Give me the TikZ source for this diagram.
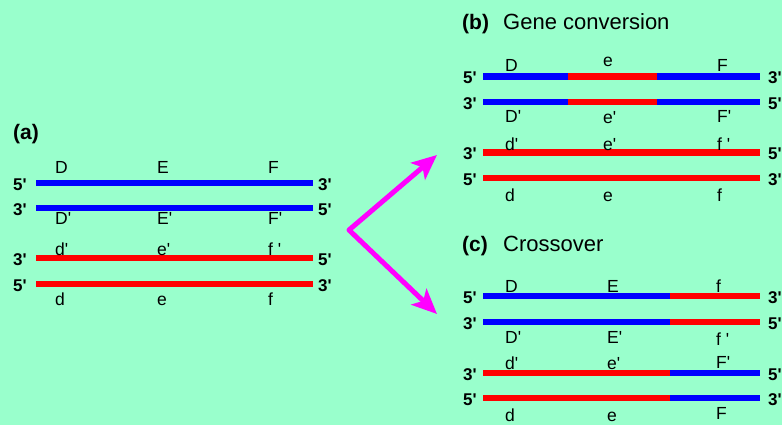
\documentclass[tikz,border=0pt]{standalone}
\usepackage{fontspec}
\setmainfont{Liberation Sans}
\usetikzlibrary{arrows.meta}
\definecolor{bg}{HTML}{99FFCC}
\definecolor{sblue}{HTML}{0000FF}
\definecolor{sred}{HTML}{FF0000}
\definecolor{smag}{HTML}{FF00FF}
\newcommand\pr{\textquotesingle}
\begin{document}
\begin{tikzpicture}[x=1pt,y=-1pt,
  lab/.style={font=\fontsize{17.5}{17.5}\selectfont, anchor=base west, inner sep=0pt},
  endl/.style={font=\bfseries\fontsize{17}{17}\selectfont, inner sep=0pt},
  endL/.style={endl, anchor=west},
  endR/.style={endl, anchor=west},
  ttl/.style={font=\bfseries\fontsize{21}{21}\selectfont, anchor=base west, inner sep=0pt},
  ttn/.style={font=\fontsize{22}{22}\selectfont, anchor=base west, inner sep=0pt},
  bl/.style={line width=6.5pt, draw=sblue},
  rd/.style={line width=6.5pt, draw=sred},
  arr/.style={draw=smag, line width=5pt, line join=round, {Stealth[length=25pt,width=22pt,inset=6pt]}-{Stealth[length=25pt,width=22pt,inset=6pt]}}
  ]
\fill[bg] (0,0) rectangle (782,425);
\useasboundingbox (0,0) rectangle (782,425);

% ---------- panel (a)
\node[ttl] (ta) at (13,140) {(a)};
\coordinate (a1s) at (36,183); \coordinate (a1e) at (313,183);
\coordinate (a2s) at (36,208); \coordinate (a2e) at (313,208);
\coordinate (a3s) at (36,258); \coordinate (a3e) at (313,258);
\coordinate (a4s) at (36,284); \coordinate (a4e) at (313,284);
\draw[bl] (a1s) -- (a1e);
\draw[bl] (a2s) -- (a2e);
\draw[rd] (a3s) -- (a3e);
\draw[rd] (a4s) -- (a4e);
\node[endL] (a1l) at (13,185) {5\pr};
\node[endR] (a1r) at (318,185) {3\pr};
\node[endL] (a2l) at (13,210) {3\pr};
\node[endR] (a2r) at (318,210) {5\pr};
\node[endL] (a3l) at (13,260) {3\pr};
\node[endR] (a3r) at (318,260) {5\pr};
\node[endL] (a4l) at (13,286) {5\pr};
\node[endR] (a4r) at (318,286) {3\pr};
\node[lab] (aD) at (55,174) {D};
\node[lab] (aE) at (157,174) {E};
\node[lab] (aF) at (268,174) {F};
\node[lab] (aDp) at (55,224) {D\pr};
\node[lab] (aEp) at (157,224) {E\pr};
\node[lab] (aFp) at (268,224) {F\pr};
\node[lab] (adp) at (55,255) {d\pr};
\node[lab] (aep) at (157,255) {e\pr};
\node[lab] (afp) at (268,255) {f \pr};
\node[lab] (ad) at (55,305) {d};
\node[lab] (ae) at (157,305) {e};
\node[lab] (af) at (268,305) {f};

% ---------- arrows
\coordinate (v) at (349,230);
\coordinate (tb) at (437,155);
\coordinate (tc) at (437,314);
\draw[arr] (tb) -- (v) -- (tc);

% ---------- panel (b)
\node[ttl] (tbl) at (462,30) {(b)};
\node[ttn] (tbn) at (503,30) {Gene conversion};
\coordinate (b1s) at (483,76.5); \coordinate (b1m) at (568,76.5); \coordinate (b1n) at (657,76.5); \coordinate (b1e) at (760,76.5);
\coordinate (b2s) at (483,102); \coordinate (b2m) at (568,102); \coordinate (b2n) at (657,102); \coordinate (b2e) at (760,102);
\coordinate (b3s) at (483,152.5); \coordinate (b3e) at (760,152.5);
\coordinate (b4s) at (483,178); \coordinate (b4e) at (760,178);
\draw[bl] (b1s) -- (b1m); \draw[rd] (b1m) -- (b1n); \draw[bl] (b1n) -- (b1e);
\draw[bl] (b2s) -- (b2m); \draw[rd] (b2m) -- (b2n); \draw[bl] (b2n) -- (b2e);
\draw[rd] (b3s) -- (b3e);
\draw[rd] (b4s) -- (b4e);
\node[endL] (b1l) at (463,78) {5\pr};
\node[endR] (b1r) at (768,78) {3\pr};
\node[endL] (b2l) at (463,104) {3\pr};
\node[endR] (b2r) at (768,104) {5\pr};
\node[endL] (b3l) at (463,154) {3\pr};
\node[endR] (b3r) at (768,154) {5\pr};
\node[endL] (b4l) at (463,180) {5\pr};
\node[endR] (b4r) at (768,180) {3\pr};
\node[lab] (bD) at (505,72) {D};
\node[lab] (be) at (603,67) {e};
\node[lab] (bF) at (717,72) {F};
\node[lab] (bDp) at (505,123) {D\pr};
\node[lab] (bep) at (603,124) {e\pr};
\node[lab] (bFp) at (717,123) {F\pr};
\node[lab] (bdp) at (505,150) {d\pr};
\node[lab] (bep2) at (603,150) {e\pr};
\node[lab] (bfp) at (717,150) {f \pr};
\node[lab] (bd) at (505,201) {d};
\node[lab] (be2) at (603,201) {e};
\node[lab] (bf) at (717,201) {f};

% ---------- panel (c)
\node[ttl] (tcl) at (462,251) {(c)};
\node[ttn] (tcn) at (503,251) {Crossover};
\coordinate (c1s) at (483,296); \coordinate (c1m) at (670,296); \coordinate (c1e) at (760,296);
\coordinate (c2s) at (483,322); \coordinate (c2m) at (670,322); \coordinate (c2e) at (760,322);
\coordinate (c3s) at (483,373); \coordinate (c3m) at (670,373); \coordinate (c3e) at (760,373);
\coordinate (c4s) at (483,398); \coordinate (c4m) at (670,398); \coordinate (c4e) at (760,398);
\draw[bl] (c1s) -- (c1m); \draw[rd] (c1m) -- (c1e);
\draw[bl] (c2s) -- (c2m); \draw[rd] (c2m) -- (c2e);
\draw[rd] (c3s) -- (c3m); \draw[bl] (c3m) -- (c3e);
\draw[rd] (c4s) -- (c4m); \draw[bl] (c4m) -- (c4e);
\node[endL] (c1l) at (463,298) {5\pr};
\node[endR] (c1r) at (768,298) {3\pr};
\node[endL] (c2l) at (463,324) {3\pr};
\node[endR] (c2r) at (768,324) {5\pr};
\node[endL] (c3l) at (463,375) {3\pr};
\node[endR] (c3r) at (768,375) {5\pr};
\node[endL] (c4l) at (463,400) {5\pr};
\node[endR] (c4r) at (768,400) {3\pr};
\node[lab] (cD) at (505,292) {D};
\node[lab] (cE) at (607,292) {E};
\node[lab] (cf) at (716,292) {f};
\node[lab] (cDp) at (505,343) {D\pr};
\node[lab] (cEp) at (607,343) {E\pr};
\node[lab] (cfp) at (716,345) {f \pr};
\node[lab] (cdp) at (505,369) {d\pr};
\node[lab] (cep) at (607,369) {e\pr};
\node[lab] (cFp) at (716,368) {F\pr};
\node[lab] (cd) at (505,421) {d};
\node[lab] (ce) at (607,421) {e};
\node[lab] (cF) at (716,419) {F};
\end{tikzpicture}
\end{document}
